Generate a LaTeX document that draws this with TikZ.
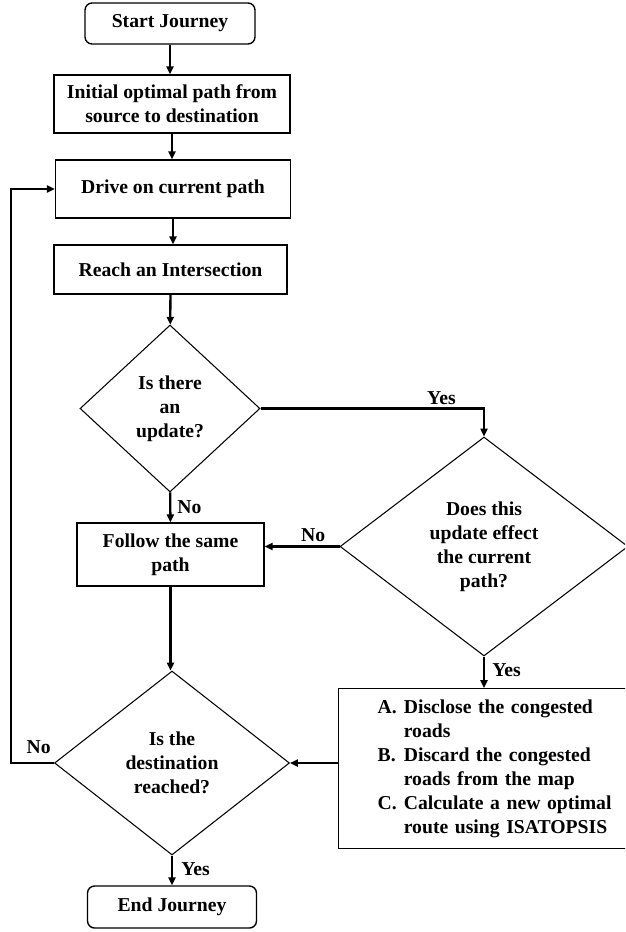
\documentclass[tikz,border=0pt]{standalone}
\usepackage{fontspec}
\setmainfont{Liberation Serif}
\usetikzlibrary{positioning, calc, arrows.meta, shapes}

\begin{document}
\begin{tikzpicture}[
    x=0.02cm, y=-0.02cm,
    every node/.style={font=\fontsize{11.2}{13.6}\selectfont\bfseries},
    box/.style={rectangle, draw=black, line width=0.8pt, align=center, inner sep=2pt},
    terminal/.style={box, rounded corners=4pt},
    decision/.style={diamond, draw=black, line width=0.6pt, align=center, inner sep=0pt},
    lbl/.style={inner sep=0pt},
    arrow/.style={-{Triangle[length=4.5pt, width=4pt]}, line width=1.3pt}
]

    \path[use as bounding box, clip] (0,0) rectangle (625,932);

    % Main column
    \node[terminal, minimum width=3.4cm, minimum height=0.82cm] (start) at (170,23.5) {Start Journey};
    \node[box, minimum width=4.72cm, minimum height=1.16cm] (init) at (172,104) {Initial optimal path from\\source to destination};
    \node[box, minimum width=4.7cm, minimum height=1.16cm] (drive) at (173,189) {Drive on current path};
    \node[box, minimum width=4.66cm, minimum height=0.98cm] (reach) at (170.5,269.5) {Reach an Intersection};
    \node[decision, minimum width=3.6cm, minimum height=3.34cm] (update) at (170,408.5) {Is there\\an\\update?};
    \node[box, minimum width=3.74cm, minimum height=1.26cm] (follow) at (170.5,554.5) {Follow the same\\path};
    \node[decision, minimum width=4.7cm, minimum height=3.68cm] (reached) at (172,763) {Is the\\destination\\reached?};
    \node[terminal, minimum width=3.38cm, minimum height=0.84cm] (end) at (172,907) {End Journey};

    % Right branch
    \node[decision, minimum width=5.76cm, minimum height=4.38cm] (effect) at (484,546.5) {Does this\\update effect\\the current\\path?};
    \node[box, anchor=north west, text width=5.2cm, align=left, inner xsep=0.78cm, minimum height=3.2cm] (reroute) at (338,688) {%
        \begin{tabular}{@{}l@{\hspace{4pt}}l@{}}
        A. & Disclose the congested\\
           & roads\\
        B. & Discard the congested\\
           & roads from the map\\
        C. & Calculate a new optimal\\
           & route using ISATOPSIS
        \end{tabular}};

    % Connections
    \draw[arrow] (start) -- (start |- init.north);
    \draw[arrow] (init) -- (init |- drive.north);
    \draw[arrow] (drive) -- (drive |- reach.north);
    \draw[arrow] (reach) -- (update);
    \draw[arrow] (update) -- (follow);
    \draw[arrow] (follow) -- (follow |- reached.north);
    \draw[arrow] (reached) -- (end);
    \draw[arrow] (update.east) -| (effect.north);
    \draw[arrow] (effect.west) -- (effect.west -| follow.east);
    \draw[arrow] (effect.south) -- (effect.south |- reroute.north);
    \draw[arrow] (reroute.west |- reached.east) -- (reached.east);
    \draw[arrow] (reached.west) -- ++(-43,0) |- (drive.west);

    % Labels
    \coordinate (bend) at (effect.north |- update.east);
    \node[lbl, above left=0.07cm and 0.56cm of bend] (yes1) {Yes};
    \node[lbl, below right=0.16cm and 0.14cm of update.south] (no1) {No};
    \node[lbl, above left=0.08cm and 0.28cm of effect.west] (no2) {No};
    \node[lbl, below right=0.14cm and 0.16cm of effect.south] (yes2) {Yes};
    \node[lbl, above left=0.18cm and 0.06cm of reached.west] (no3) {No};
    \node[lbl, below right=0.14cm and 0.18cm of reached.south] (yes3) {Yes};

\end{tikzpicture}
\end{document}
